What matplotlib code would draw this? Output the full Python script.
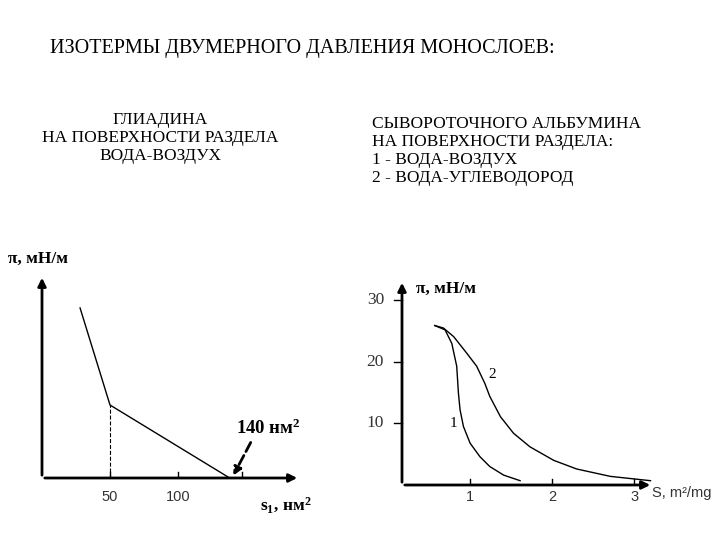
import matplotlib
matplotlib.use("Agg")
import matplotlib.pyplot as plt

# Left chart: gliadin isotherm
gl_s = [28, 50, 138]
gl_pi = [17.0, 7.3, 0.0]
gl_ticks = [50, 100]

# Right chart: serum albumin
c1_s = [0.57, 0.695, 0.777, 0.837, 0.858, 0.878, 0.919, 1.0, 1.12, 1.24, 1.41, 1.61]
c1_pi = [25.9, 25.2, 23.0, 19.3, 14.9, 12.2, 9.5, 6.8, 4.6, 3.0, 1.6, 0.7]
c2_s = [0.57, 0.675, 0.80, 0.96, 1.08, 1.18, 1.24, 1.37, 1.53, 1.73, 2.02, 2.30, 2.71, 3.2]
c2_pi = [25.9, 25.5, 24.1, 21.4, 19.3, 16.5, 14.4, 11.1, 8.4, 6.2, 4.0, 2.6, 1.4, 0.7]
r_xticks = [1, 2, 3]
r_yticks = [10, 20, 30]

plt.rcParams["mathtext.fontset"] = "custom"
plt.rcParams["mathtext.rm"] = "Liberation Serif:bold"
plt.rcParams["mathtext.it"] = "Liberation Serif:bold"
plt.rcParams["mathtext.bf"] = "Liberation Serif:bold"

W, H = 720, 540
fig = plt.figure(figsize=(7.2, 5.4), dpi=100)
def px(x, y):
    return x / W, 1 - y / H
def rect(x0, y0, x1, y1):
    return [x0 / W, 1 - y1 / H, (x1 - x0) / W, (y1 - y0) / H]

serif = "Liberation Serif"
sans = "Liberation Sans"

fig.text(*px(50, 48), "ИЗОТЕРМЫ ДВУМЕРНОГО ДАВЛЕНИЯ МОНОСЛОЕВ:", fontsize=14.5, family=serif, va="center")
fig.text(*px(160, 138), "ГЛИАДИНА\nНА ПОВЕРХНОСТИ РАЗДЕЛА\nВОДА-ВОЗДУХ", fontsize=12.5, family=serif,
         ha="center", va="center", linespacing=1.15)
fig.text(*px(372, 151), "СЫВОРОТОЧНОГО АЛЬБУМИНА\nНА ПОВЕРХНОСТИ РАЗДЕЛА:\n1 - ВОДА-ВОЗДУХ\n2 - ВОДА-УГЛЕВОДОРОД",
         fontsize=12.5, family=serif, ha="left", va="center", linespacing=1.15)

def arrow_axes(ax):
    for s in ax.spines.values():
        s.set_visible(False)
    ax.set_xticks([]); ax.set_yticks([])
    ax.patch.set_alpha(0)
    ax.annotate("", xy=(0, 1), xytext=(0, 0), xycoords="axes fraction",
                arrowprops=dict(arrowstyle="-|>", lw=2, color="black", mutation_scale=12))
    ax.annotate("", xy=(1, 0), xytext=(0, 0), xycoords="axes fraction",
                arrowprops=dict(arrowstyle="-|>", lw=2, color="black", mutation_scale=12))

# Left
axL = fig.add_axes(rect(42, 275, 300, 478))
arrow_axes(axL)
axL.set_xlim(0, 189.7); axL.set_ylim(0, 20.3)
axL.plot(gl_s, gl_pi, color="black", lw=1)
axL.plot([50, 50], [0, 7.3], color="black", lw=0.8, ls="--")
for t in gl_ticks + [147]:
    axL.plot([t, t], [0, 0.6], color="black", lw=1)
for t in gl_ticks:
    axL.text(t, -1.2, str(t), ha="center", va="top", family=sans, fontsize=10.5, color="#333")
fig.text(*px(8, 259), "π, мН/м", family=serif, fontsize=12.5, fontweight="bold", va="center")
fig.text(*px(236, 428), "140 нм$^2$", family=serif, fontsize=13.5, fontweight="bold", va="center")
fig.text(*px(260, 505), "s$_1$, нм$^2$", family=serif, fontsize=12.5, fontweight="bold", va="center")
axL.annotate("", xy=px(232, 478), xytext=px(252, 440), xycoords="figure fraction",
             arrowprops=dict(arrowstyle="-|>", lw=2, ls="--", color="black", mutation_scale=12))

# Right
axR = fig.add_axes(rect(402, 280, 653, 485))
arrow_axes(axR)
axR.set_xlim(0.17, 3.23); axR.set_ylim(0, 33.3)
axR.plot(c1_s, c1_pi, color="black", lw=1)
axR.plot(c2_s, c2_pi, color="black", lw=1)
for t in r_yticks:
    axR.plot([0.17, 0.07], [t, t], color="black", lw=1, clip_on=False)
    axR.text(-0.05, t, str(t), ha="right", va="center", family=serif, fontsize=12.5, color="#333")
for t in r_xticks:
    axR.plot([t, t], [0, 1.0], color="black", lw=1)
    axR.text(t, -0.8, str(t), ha="center", va="top", family=sans, fontsize=10.5, color="#333")
axR.text(0.80, 10.0, "1", family=serif, fontsize=11, ha="center", va="center")
axR.text(1.27, 18.0, "2", family=serif, fontsize=11, ha="center", va="center")
fig.text(*px(416, 289), "π, мН/м", family=serif, fontsize=12.5, fontweight="bold", va="center")
fig.text(*px(652, 493), "S, m²/mg", family=sans, fontsize=10.5, color="#333", va="center")

fig.savefig("out.png", dpi=100)
